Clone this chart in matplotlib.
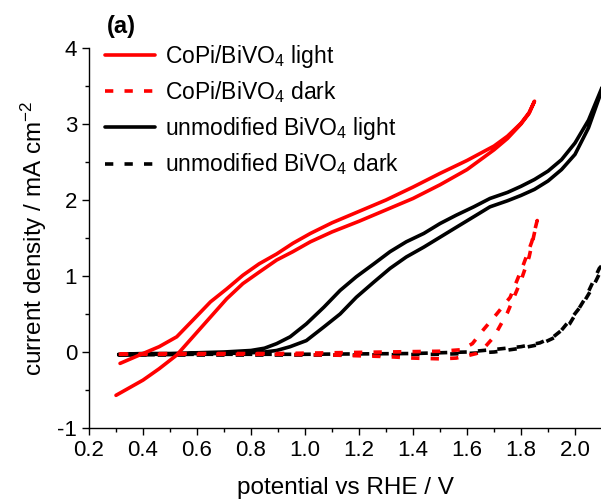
import matplotlib
matplotlib.use('Agg')
import matplotlib.pyplot as plt
from matplotlib.ticker import MultipleLocator

plt.rc('font', family='Liberation Sans', size=16)
plt.rc('mathtext', fontset='custom', rm='Liberation Sans',
       it='Liberation Sans:italic', bf='Liberation Sans:bold')
plt.rc('mathtext', default='regular')

# CoPi/BiVO4 under light: forward (lower) and return (upper) sweeps
copi_light_fwd_v = [0.30, 0.40, 0.46, 0.525, 0.585, 0.65, 0.71, 0.77, 0.83, 0.895,
                    0.955, 1.02, 1.10, 1.20, 1.30, 1.40, 1.50, 1.60, 1.70, 1.75,
                    1.80, 1.83, 1.85]
copi_light_fwd_j = [-0.57, -0.37, -0.22, -0.04, 0.20, 0.46, 0.70, 0.90, 1.05, 1.21,
                    1.32, 1.45, 1.58, 1.72, 1.87, 2.02, 2.20, 2.40, 2.66, 2.81,
                    3.00, 3.14, 3.30]
copi_light_rev_v = [1.85, 1.83, 1.80, 1.75, 1.70, 1.60, 1.50, 1.40, 1.30, 1.20,
                    1.10, 1.02, 0.955, 0.895, 0.83, 0.77, 0.71, 0.65, 0.585, 0.525,
                    0.46, 0.40, 0.315]
copi_light_rev_j = [3.30, 3.15, 3.01, 2.84, 2.71, 2.52, 2.35, 2.17, 2.00, 1.85,
                    1.70, 1.56, 1.43, 1.29, 1.16, 1.01, 0.83, 0.66, 0.42, 0.20,
                    0.07, -0.02, -0.15]

# CoPi/BiVO4 in the dark
copi_dark_fwd_v = [0.31, 0.50, 0.70, 0.90, 1.10, 1.20, 1.30, 1.40, 1.50, 1.56,
                   1.60, 1.635, 1.67, 1.70, 1.75, 1.80, 1.83, 1.86]
copi_dark_fwd_j = [-0.03, -0.03, -0.03, -0.03, -0.04, -0.05, -0.06, -0.08, -0.09, -0.08,
                   -0.05, -0.02, 0.08, 0.20, 0.52, 0.94, 1.25, 1.73]
copi_dark_rev_v = [1.86, 1.84, 1.81, 1.76, 1.71, 1.66, 1.62, 1.58, 1.50, 1.30,
                   1.10, 0.90, 0.70, 0.50, 0.31]
copi_dark_rev_j = [1.73, 1.45, 1.16, 0.72, 0.50, 0.29, 0.11, 0.03, 0.01, 0.00,
                   -0.01, -0.02, -0.02, -0.02, -0.03]

# unmodified BiVO4 under light
bivo_light_fwd_v = [0.31, 0.40, 0.50, 0.60, 0.70, 0.80, 0.85, 0.895, 0.945, 1.005,
                    1.07, 1.13, 1.19, 1.255, 1.315, 1.375, 1.44, 1.50, 1.56, 1.625,
                    1.685, 1.75, 1.80, 1.85, 1.90, 1.95, 2.00, 2.05, 2.10]
bivo_light_fwd_j = [-0.04, -0.03, -0.03, -0.02, -0.02, -0.01, 0.00, 0.02, 0.07, 0.15,
                    0.33, 0.50, 0.72, 0.92, 1.10, 1.25, 1.38, 1.51, 1.64, 1.78,
                    1.91, 1.99, 2.06, 2.14, 2.25, 2.40, 2.60, 2.95, 3.45]
bivo_light_rev_v = [2.10, 2.05, 2.00, 1.95, 1.90, 1.85, 1.80, 1.75, 1.685, 1.625,
                    1.56, 1.50, 1.44, 1.375, 1.315, 1.255, 1.19, 1.13, 1.07, 1.005,
                    0.945, 0.895, 0.85, 0.80, 0.70, 0.60, 0.50, 0.40, 0.31]
bivo_light_rev_j = [3.48, 3.05, 2.75, 2.53, 2.38, 2.27, 2.18, 2.10, 2.02, 1.91,
                    1.80, 1.69, 1.56, 1.45, 1.32, 1.16, 0.99, 0.81, 0.59, 0.37,
                    0.20, 0.11, 0.05, 0.02, 0.00, -0.01, -0.02, -0.02, -0.03]

# unmodified BiVO4 in the dark
bivo_dark_fwd_v = [0.31, 0.60, 0.90, 1.20, 1.50, 1.60, 1.70, 1.80, 1.87, 1.93,
                   1.99, 2.03, 2.067, 2.10]
bivo_dark_fwd_j = [-0.04, -0.04, -0.04, -0.04, -0.03, -0.02, 0.00, 0.05, 0.10, 0.20,
                   0.46, 0.64, 0.86, 1.10]
bivo_dark_rev_v = [2.10, 2.09, 2.04, 1.98, 1.92, 1.87, 1.80, 1.72, 1.60, 1.40,
                   1.00, 0.60, 0.31]
bivo_dark_rev_j = [1.14, 1.10, 0.72, 0.37, 0.20, 0.12, 0.07, 0.04, 0.00, -0.02,
                   -0.03, -0.03, -0.04]

labels = ['CoPi/BiVO$_4$ light', 'CoPi/BiVO$_4$ dark',
          'unmodified BiVO$_4$ light', 'unmodified BiVO$_4$ dark']

fig = plt.figure(figsize=(6.01, 4.99), dpi=100)
ax = fig.add_axes([89 / 601, 71 / 499, 513 / 601, 380 / 499])

lw = 2.6
dash = (0, (2.3, 3.1))
l_bl, = ax.plot(bivo_light_fwd_v + bivo_light_rev_v,
                bivo_light_fwd_j + bivo_light_rev_j,
                color='black', lw=lw, solid_capstyle='round',
                solid_joinstyle='round')
l_bd, = ax.plot(bivo_dark_fwd_v + bivo_dark_rev_v,
                bivo_dark_fwd_j + bivo_dark_rev_j,
                color='black', lw=lw, linestyle=dash)
l_cl, = ax.plot(copi_light_fwd_v + copi_light_rev_v,
                copi_light_fwd_j + copi_light_rev_j,
                color='#ff0000', lw=lw, solid_capstyle='round',
                solid_joinstyle='round')
l_cd, = ax.plot(copi_dark_fwd_v + copi_dark_rev_v,
                copi_dark_fwd_j + copi_dark_rev_j,
                color='#ff0000', lw=lw, linestyle=dash)

ax.set_xlim(0.2, 2.1)
ax.set_ylim(-1, 4)
ax.spines[['top', 'right']].set_visible(False)
for s in ('left', 'bottom'):
    ax.spines[s].set_linewidth(1.0)
ax.xaxis.set_major_locator(MultipleLocator(0.2))
ax.xaxis.set_minor_locator(MultipleLocator(0.1))
ax.yaxis.set_major_locator(MultipleLocator(1))
ax.yaxis.set_minor_locator(MultipleLocator(0.5))
ax.tick_params(which='major', length=5, width=1.0, direction='out')
ax.tick_params(which='minor', length=3, width=1.0, direction='out')
ax.xaxis.set_major_formatter(plt.FuncFormatter(lambda v, _: '%.1f' % v))
ax.yaxis.set_major_formatter(plt.FuncFormatter(lambda v, _: '%d' % round(v)))

ax.set_xlabel('potential vs RHE / V', fontsize=17.5, labelpad=12)
ax.set_ylabel('current density / mA cm$^{-2}$', fontsize=17.5, labelpad=6)

ax.legend([l_cl, l_cd, l_bl, l_bd], labels, loc='upper left',
          bbox_to_anchor=(0.0, 1.056), frameon=False, fontsize=16.5,
          handlelength=2.2, handletextpad=0.4, labelspacing=0.42,
          borderaxespad=0.3)

fig.text(107 / 601, 1 - 27 / 499, '(a)', fontsize=17, fontweight='bold',
         va='center', ha='left')

fig.savefig('out.png', dpi=100)
